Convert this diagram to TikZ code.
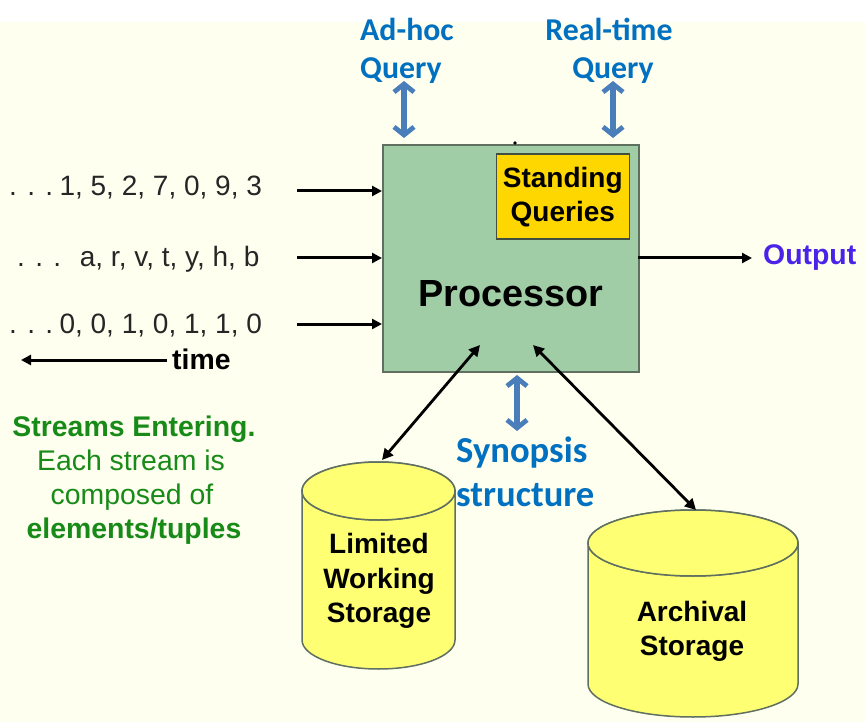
\documentclass[tikz,border=0pt]{standalone}
\usepackage{fontspec}
\setmainfont{Liberation Sans}
\newfontfamily\blu{Carlito}
\usetikzlibrary{arrows.meta}
\definecolor{bgy}{HTML}{FFFFF0}
\definecolor{procg}{HTML}{A0CDA5}
\definecolor{edgeg}{HTML}{5F6F60}
\definecolor{gold}{HTML}{FFD700}
\definecolor{cyl}{HTML}{FFFF73}
\definecolor{blarrow}{HTML}{4A7EBB}
\definecolor{blutxt}{HTML}{0070C0}
\definecolor{grn}{HTML}{178A17}
\definecolor{purp}{HTML}{4A22E8}
\tikzset{
 x=1pt,y=-1pt,
 blab/.style={font=\blu\bfseries\fontsize{31.8}{38}\selectfont,text=blutxt,inner sep=0},
 stream/.style={font=\fontsize{28}{30}\selectfont,text=black!85,anchor=west,inner sep=0},
 glab/.style={font=\fontsize{28.4}{34}\selectfont,text=grn,align=center,inner sep=0},
 cyltxt/.style={font=\bfseries\fontsize{28}{34.3}\selectfont,align=center,inner sep=0},
 darrow/.style={line width=5.4pt,blarrow,{Straight Barb[length=8pt,width=20pt,line width=4.8pt]}-{Straight Barb[length=8pt,width=20pt,line width=4.8pt]}},
 flow/.style={line width=3pt,-{Triangle[length=10pt,width=10pt]},black},
 both/.style={line width=2.8pt,{Triangle[length=11pt,width=11pt]}-{Triangle[length=11pt,width=11pt]},black},
 cylshape/.style={fill=cyl,draw=edgeg,line width=1.5pt},
}
\begin{document}
\begin{tikzpicture}
\useasboundingbox (0,0) rectangle (865,722);
\fill[white] (0,0) rectangle (865,722);
\fill[bgy] (0,22) rectangle (865,722);

% processor
\node[draw=edgeg,fill=procg,line width=1.8pt,minimum width=256pt,minimum height=227pt,inner sep=0,anchor=north west] (proc) at (382,144) {};
\node[font=\bfseries\fontsize{37.8}{40}\selectfont,inner sep=0] (proclab) at (511,294) {Processor};
\node[draw=edgeg!70!black,fill=gold,line width=1.6pt,minimum width=133pt,minimum height=85pt,inner sep=0,anchor=north west,align=center,font=\bfseries\fontsize{28}{34}\selectfont] (sq) at (495.5,153.5) {Standing\\Queries};

% streams
\node[stream] (s1) at (9,188) {. . .\kern-1.5pt\ 1, 5, 2, 7, 0, 9, 3};
\node[stream] (s2) at (17,259) {. . .\ \ \kern3pt a, r, v, t, y, h, b};
\node[stream] (s3) at (9,326) {. . .\kern-1.5pt\ 0, 0, 1, 0, 1, 1, 0};
\coordinate (i1) at (297,191);
\coordinate (i2) at (297,258);
\coordinate (i3) at (297,324);
\draw[flow] (i1) -- (i1-|proc.west);
\draw[flow] (i2) -- (i2-|proc.west);
\draw[flow] (i3) -- (i3-|proc.west);
\node[font=\bfseries\fontsize{28.4}{30}\selectfont,inner sep=0,anchor=west] (tm) at (172,359) {time};
\coordinate (tl) at (21,360);
\draw[flow] (tm.west |- tl) ++(-5,0) -- (tl);

% output
\node[font=\bfseries\fontsize{28.4}{30}\selectfont,text=purp,inner sep=0,anchor=west] (out) at (763,258) {Output};
\coordinate (ostart) at (638,258);
\draw[flow] (ostart) -- (752,258);

% green text
\node[glab] (gt) at (134,480) {\textbf{Streams Entering.}\\[-0.5pt]\kern-6pt Each stream is\\\kern-4pt composed of\\\textbf{elements/tuples}};

% cylinders
\path[cylshape] (302,491) -- (302,640) arc[start angle=180,end angle=0,x radius=76.5pt,y radius=-29pt] -- (455,491) arc[start angle=0,end angle=360,x radius=76.5pt,y radius=29pt] -- cycle;
\path[cylshape] (302,491) arc[start angle=180,end angle=540,x radius=76.5pt,y radius=29pt];
\node[cyltxt] (c1) at (379,581) {Limited\\Working\\Storage};
\coordinate (c1top) at (382,460);

\path[cylshape] (588,543) -- (588,684) arc[start angle=180,end angle=0,x radius=105pt,y radius=-33pt] -- (798,543) arc[start angle=0,end angle=360,x radius=105pt,y radius=33pt] -- cycle;
\path[cylshape] (588,543) arc[start angle=180,end angle=540,x radius=105pt,y radius=33pt];
\node[cyltxt] (c2) at (692,631) {Archival\\Storage};
\coordinate (c2top) at (696,510);

% connectors
\coordinate (pa) at (480,345);
\coordinate (pb) at (533,345);
\draw[both] (pa) -- (c1top);
\draw[both] (pb) -- (c2top);

% blue labels
\node[blab,align=left,anchor=north west] (q1) at (360,18) {Ad-hoc\\Query};
\node[blab,align=center] (q2) at (609,51) {Real-time\\\kern8pt Query};
\node[blab,font=\blu\bfseries\fontsize{36.6}{44}\selectfont,align=left,anchor=north west] (syn) at (456,437) {Synopsis\\structure};
\coordinate (a1t) at (404,81); \coordinate (a1b) at (404,138);
\coordinate (a2t) at (613,81); \coordinate (a2b) at (613,138);
\coordinate (a3t) at (517,375); \coordinate (a3b) at (517,431);
\draw[darrow] (a1t) -- (a1b);
\draw[darrow] (a2t) -- (a2b);
\draw[darrow] (a3t) -- (a3b);
\fill (515,143) circle (1.8pt);
\end{tikzpicture}
\end{document}
